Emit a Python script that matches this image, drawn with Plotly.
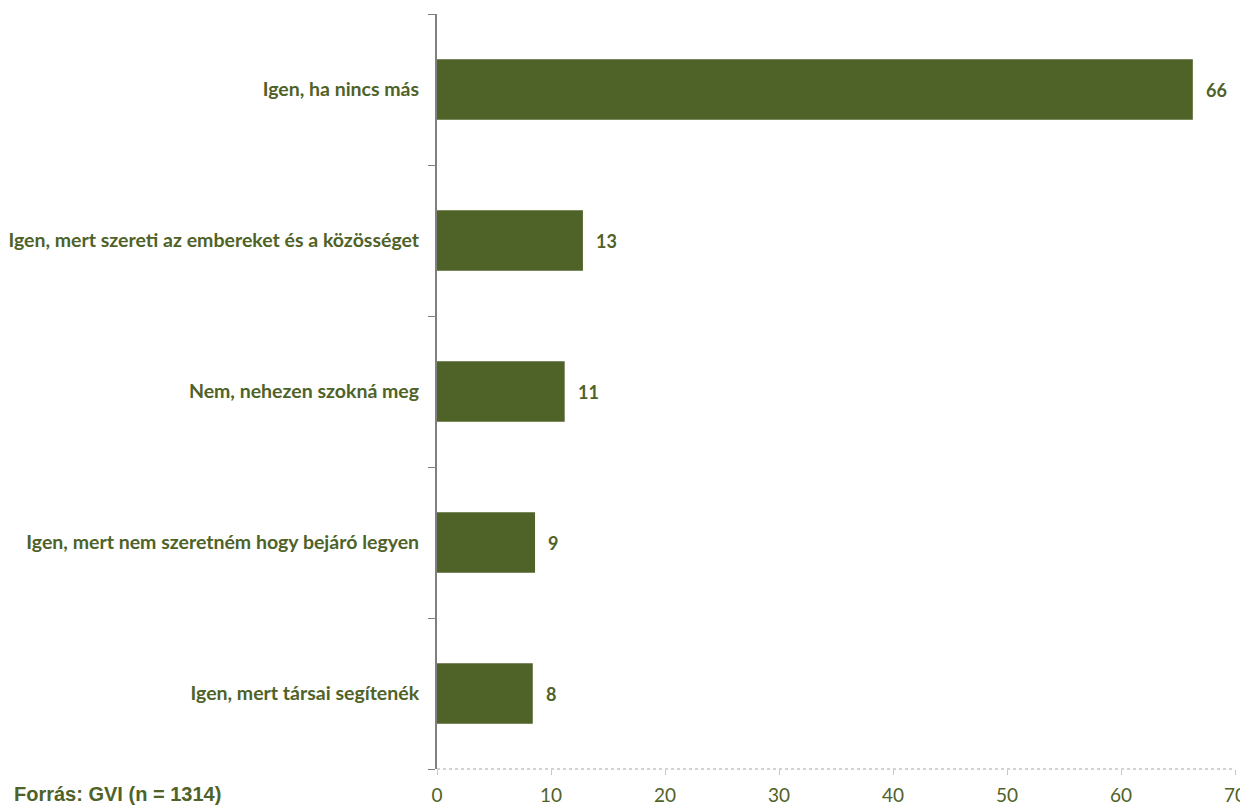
import plotly.graph_objects as go

categories = [
    "Igen, ha nincs más",
    "Igen, mert szereti az embereket és a közösséget",
    "Nem, nehezen szokná meg",
    "Igen, mert nem szeretném hogy bejáró legyen",
    "Igen, mert társai segítenék",
]
values = [66.3, 12.8, 11.2, 8.6, 8.4]
labels = ["66", "13", "11", "9", "8"]
x_ticks = [0, 10, 20, 30, 40, 50, 60, 70]

olive = "#4F6228"

W, H = 1240, 799
L, R, T, B = 429, 13, 6, 38
PW, PH = W - L - R, H - T - B

fig = go.Figure(
    go.Bar(
        x=values,
        y=categories,
        orientation="h",
        marker=dict(color=olive, line=dict(width=0)),
        width=0.4,
        hoverinfo="x+y",
    )
)

for v, c, t in zip(values, categories, labels):
    fig.add_annotation(
        x=v, y=c, xref="x", yref="y",
        text="<b>%s</b>" % t,
        showarrow=False,
        xanchor="left", yanchor="middle",
        xshift=11,
        font=dict(family="Lato", size=18, color=olive),
    )

# dotted horizontal axis line as in the reference
fig.add_shape(
    type="line", xref="paper", yref="paper",
    x0=0, x1=1, y0=0, y1=0,
    line=dict(color="#A6A6A6", width=1, dash="dot"),
    layer="above",
)

fig.update_layout(
    width=W,
    height=H,
    margin=dict(l=L, r=R, t=T, b=B, autoexpand=False),
    plot_bgcolor="white",
    paper_bgcolor="white",
    showlegend=False,
    bargap=0.6,
    font=dict(family="Lato", color=olive),
    xaxis=dict(
        range=[0, 70],
        tickvals=x_ticks,
        ticktext=[str(v) for v in x_ticks],
        showgrid=False,
        zeroline=False,
        showline=False,
        ticks="outside",
        ticklen=5,
        tickwidth=1,
        tickcolor="#C8C8C8",
        tickfont=dict(family="Lato", size=19, color=olive),
        ticklabelstandoff=4,
        automargin=False,
    ),
    yaxis=dict(
        type="category",
        categoryorder="array",
        categoryarray=categories[::-1],
        autorange=False,
        range=[-0.5, 4.5],
        tickson="boundaries",
        showgrid=False,
        zeroline=False,
        showline=True,
        linecolor="#808080",
        linewidth=2,
        ticks="outside",
        ticklen=7,
        tickcolor="#808080",
        tickfont=dict(family="Lato", size=19.5, color=olive, weight="bold"),
        ticklabelstandoff=12,
        automargin=False,
    ),
)

fig.add_annotation(
    text="<b>Forrás: GVI (n = 1314)</b>",
    xref="paper", yref="paper",
    x=-(L - 4) / PW, y=-B / PH,
    xanchor="left", yanchor="bottom",
    showarrow=False,
    font=dict(family="Liberation Sans", size=20, color=olive),
)

fig.write_html("out.html")
